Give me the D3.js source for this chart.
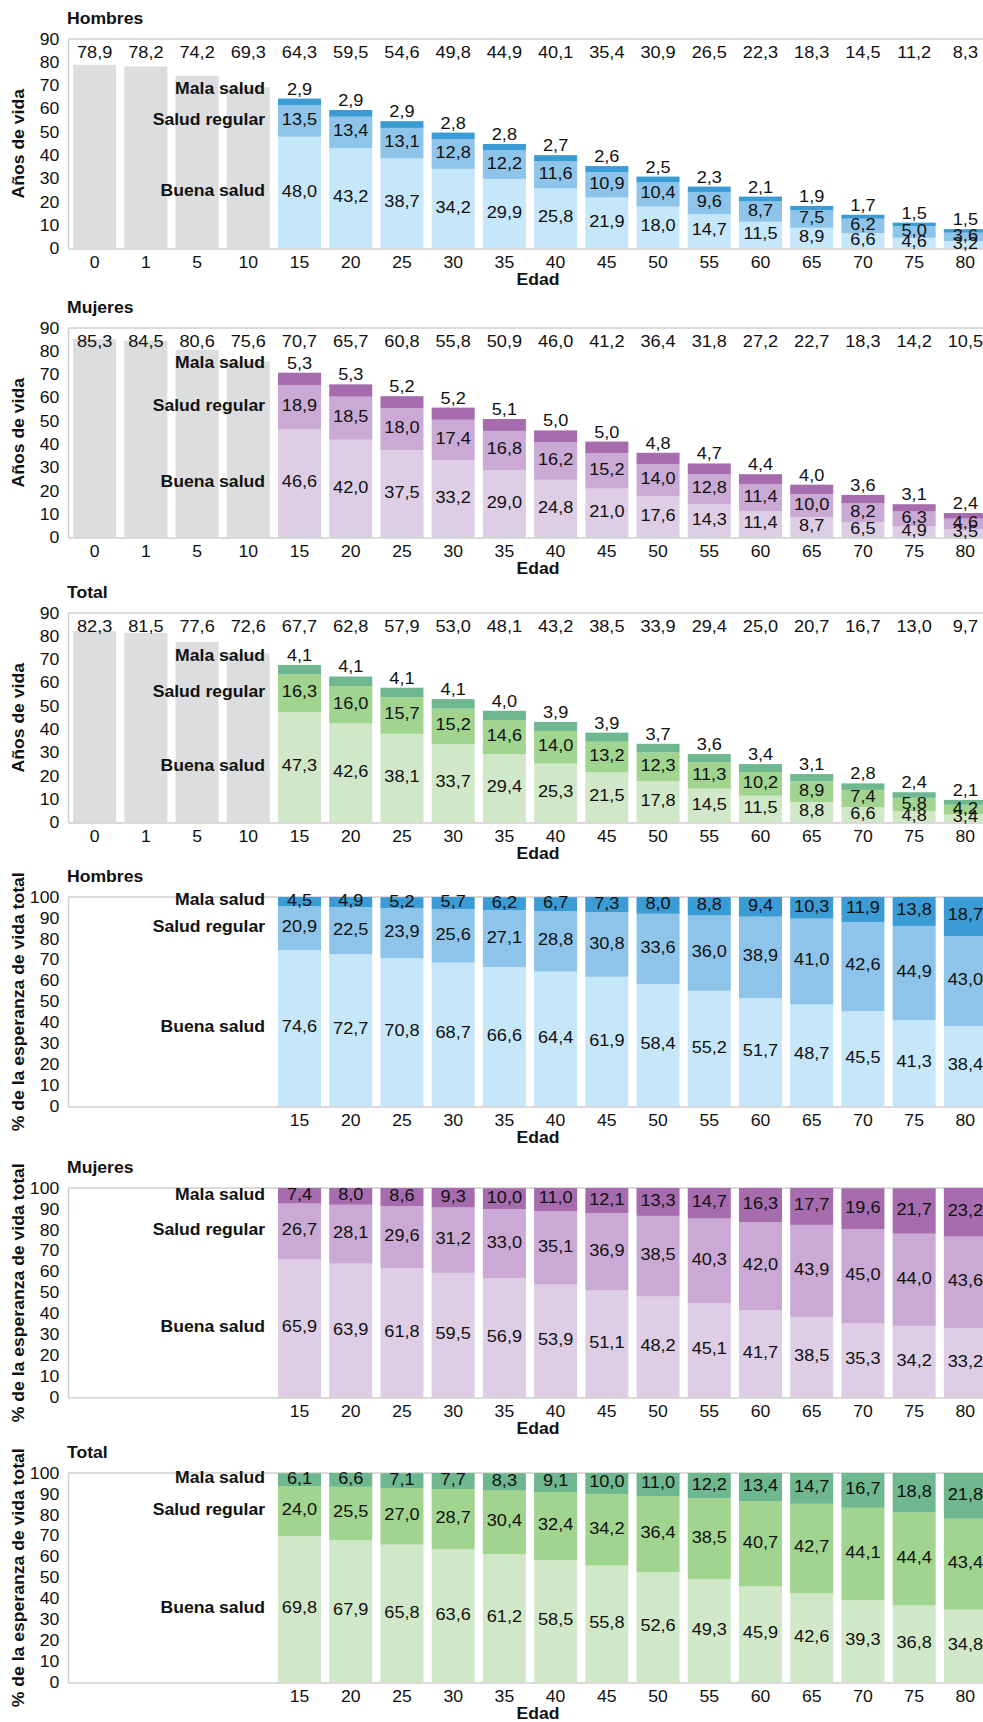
<!DOCTYPE html>
<html>
<head>
<meta charset="utf-8">
<script src="https://cdn.jsdelivr.net/npm/d3@7"></script>
<style>
  body { margin: 0; background: #fff; }
  text { font-family: "Liberation Sans", Arial, Helvetica, sans-serif; fill: #111; }
</style>
</head>
<body>
<svg id="chart" width="983" height="1722"></svg>
<script>
// Age groups (x axis) and the ones broken down by perceived health
const ages = ["0", "1", "5", "10", "15", "20", "25", "30", "35", "40", "45", "50", "55", "60", "65", "70", "75", "80"];
const stackAges = ["15", "20", "25", "30", "35", "40", "45", "50", "55", "60", "65", "70", "75", "80"];
const yearTicks = [0, 10, 20, 30, 40, 50, 60, 70, 80, 90];
const pctTicks = [0, 10, 20, 30, 40, 50, 60, 70, 80, 90, 100];
const healthLabels = ["Buena salud", "Salud regular", "Mala salud"];

// Life expectancy (years) — men
const menTotal = [78.9, 78.2, 74.2, 69.3, 64.3, 59.5, 54.6, 49.8, 44.9, 40.1, 35.4, 30.9, 26.5, 22.3, 18.3, 14.5, 11.2, 8.3];
const menGood = [48.0, 43.2, 38.7, 34.2, 29.9, 25.8, 21.9, 18.0, 14.7, 11.5, 8.9, 6.6, 4.6, 3.2];
const menFair = [13.5, 13.4, 13.1, 12.8, 12.2, 11.6, 10.9, 10.4, 9.6, 8.7, 7.5, 6.2, 5.0, 3.6];
const menPoor = [2.9, 2.9, 2.9, 2.8, 2.8, 2.7, 2.6, 2.5, 2.3, 2.1, 1.9, 1.7, 1.5, 1.5];

// Life expectancy (years) — women
const womenTotal = [85.3, 84.5, 80.6, 75.6, 70.7, 65.7, 60.8, 55.8, 50.9, 46.0, 41.2, 36.4, 31.8, 27.2, 22.7, 18.3, 14.2, 10.5];
const womenGood = [46.6, 42.0, 37.5, 33.2, 29.0, 24.8, 21.0, 17.6, 14.3, 11.4, 8.7, 6.5, 4.9, 3.5];
const womenFair = [18.9, 18.5, 18.0, 17.4, 16.8, 16.2, 15.2, 14.0, 12.8, 11.4, 10.0, 8.2, 6.3, 4.6];
const womenPoor = [5.3, 5.3, 5.2, 5.2, 5.1, 5.0, 5.0, 4.8, 4.7, 4.4, 4.0, 3.6, 3.1, 2.4];

// Life expectancy (years) — both sexes
const allTotal = [82.3, 81.5, 77.6, 72.6, 67.7, 62.8, 57.9, 53.0, 48.1, 43.2, 38.5, 33.9, 29.4, 25.0, 20.7, 16.7, 13.0, 9.7];
const allGood = [47.3, 42.6, 38.1, 33.7, 29.4, 25.3, 21.5, 17.8, 14.5, 11.5, 8.8, 6.6, 4.8, 3.4];
const allFair = [16.3, 16.0, 15.7, 15.2, 14.6, 14.0, 13.2, 12.3, 11.3, 10.2, 8.9, 7.4, 5.8, 4.2];
const allPoor = [4.1, 4.1, 4.1, 4.1, 4.0, 3.9, 3.9, 3.7, 3.6, 3.4, 3.1, 2.8, 2.4, 2.1];

// Share of remaining life expectancy (%) — men
const menPctGood = [74.6, 72.7, 70.8, 68.7, 66.6, 64.4, 61.9, 58.4, 55.2, 51.7, 48.7, 45.5, 41.3, 38.4];
const menPctFair = [20.9, 22.5, 23.9, 25.6, 27.1, 28.8, 30.8, 33.6, 36.0, 38.9, 41.0, 42.6, 44.9, 43.0];
const menPctPoor = [4.5, 4.9, 5.2, 5.7, 6.2, 6.7, 7.3, 8.0, 8.8, 9.4, 10.3, 11.9, 13.8, 18.7];

// Share of remaining life expectancy (%) — women
const womenPctGood = [65.9, 63.9, 61.8, 59.5, 56.9, 53.9, 51.1, 48.2, 45.1, 41.7, 38.5, 35.3, 34.2, 33.2];
const womenPctFair = [26.7, 28.1, 29.6, 31.2, 33.0, 35.1, 36.9, 38.5, 40.3, 42.0, 43.9, 45.0, 44.0, 43.6];
const womenPctPoor = [7.4, 8.0, 8.6, 9.3, 10.0, 11.0, 12.1, 13.3, 14.7, 16.3, 17.7, 19.6, 21.7, 23.2];

// Share of remaining life expectancy (%) — both sexes
const allPctGood = [69.8, 67.9, 65.8, 63.6, 61.2, 58.5, 55.8, 52.6, 49.3, 45.9, 42.6, 39.3, 36.8, 34.8];
const allPctFair = [24.0, 25.5, 27.0, 28.7, 30.4, 32.4, 34.2, 36.4, 38.5, 40.7, 42.7, 44.1, 44.4, 43.4];
const allPctPoor = [6.1, 6.6, 7.1, 7.7, 8.3, 9.1, 10.0, 11.0, 12.2, 13.4, 14.7, 16.7, 18.8, 21.8];

// Palettes: [good, fair, poor]
const bluePalette = ["#c6e6f9", "#8ec4ea", "#3a9bd5"];
const purplePalette = ["#ddcde5", "#caaad4", "#a66cae"];
const greenPalette = ["#d1e8c8", "#a0d48f", "#6fb78f"];
const grayBar = "#dcdddf";
const lineColor = "#cfcfcf";

const svg = d3.select("#chart");
const W = 983, H = 1722;
const plotLeft = 68, plotRight = 992, panelHeight = 209.5;
const SX = 1.1;            // horizontal widening applied to all labels
const FS = 16;             // base font size
const VFS = 16.5;          // value label font size

const x = d3.scaleBand().domain(ages).range([plotLeft, plotRight]).paddingInner(0.16).paddingOuter(0.1);
const fmt = v => v.toFixed(1).replace(".", ",");

function label(g, px, py, str, opts = {}) {
  const { anchor = "middle", weight = "normal", size = FS, dy = "0.36em" } = opts;
  return g.append("text")
    .attr("transform", `translate(${px},${py}) scale(${SX},1)`)
    .attr("text-anchor", anchor)
    .attr("dy", dy)
    .style("font-size", size + "px")
    .style("font-weight", weight)
    .text(str);
}

function drawPanel(cfg) {
  const top = cfg.top, base = top + panelHeight;
  const g = svg.append("g");
  const y = d3.scaleLinear().domain([0, cfg.yMax]).range([base, top]);

  // Frame: top line at the maximum of the scale
  g.append("line").attr("x1", plotLeft).attr("x2", W).attr("y1", y(cfg.yMax)).attr("y2", y(cfg.yMax))
    .attr("stroke", lineColor).attr("stroke-width", 1.5);

  // Panel title
  label(g, plotLeft - 1, top - 21, cfg.title, { anchor: "start", weight: "bold" });

  // Y axis
  const yAxis = g.append("g").attr("transform", `translate(${plotLeft},0)`)
    .call(d3.axisLeft(y).tickValues(cfg.ticks).tickSize(0).tickSizeOuter(0).tickPadding(8).tickFormat(d3.format("d")));
  yAxis.select(".domain").attr("stroke", lineColor).attr("stroke-width", 1.5);
  yAxis.selectAll("text").attr("transform", `scale(${SX},1)`).style("font-size", FS + "px").attr("fill", "#111");

  // Y axis title
  g.append("text")
    .attr("transform", `translate(24,${(top + base) / 2}) rotate(-90) scale(${SX},1)`)
    .attr("text-anchor", "middle")
    .style("font-size", FS + "px").style("font-weight", "bold")
    .text(cfg.yTitle);

  // Grey bars for ages without a health breakdown
  if (cfg.totals) {
    const greyAges = ages.filter(a => !stackAges.includes(a));
    g.selectAll("rect.total").data(greyAges).join("rect")
      .attr("class", "total")
      .attr("x", a => x(a)).attr("width", x.bandwidth())
      .attr("y", a => y(cfg.totals[ages.indexOf(a)]))
      .attr("height", a => base - y(cfg.totals[ages.indexOf(a)]))
      .attr("fill", grayBar);
  }

  // Stacked bars by perceived health
  const rows = stackAges.map((a, i) => ({ age: a, good: cfg.good[i], fair: cfg.fair[i], poor: cfg.poor[i] }));
  const keys = ["good", "fair", "poor"];
  const series = d3.stack().keys(keys)(rows);
  series.forEach((s, k) => {
    g.selectAll(null).data(s).join("rect")
      .attr("x", d => x(d.data.age)).attr("width", x.bandwidth())
      .attr("y", d => y(Math.min(d[1], cfg.yMax)))
      .attr("height", d => y(d[0]) - y(Math.min(d[1], cfg.yMax)))
      .attr("fill", cfg.colors[k]);
  });

  // X axis
  const xAxis = g.append("g").attr("transform", `translate(0,${base})`)
    .call(d3.axisBottom(x).tickValues(cfg.totals ? ages : stackAges).tickSize(0).tickSizeOuter(0).tickPadding(8));
  xAxis.select(".domain").attr("stroke", lineColor).attr("stroke-width", 1.5);
  xAxis.selectAll("text").attr("transform", `scale(${SX},1)`).style("font-size", FS + "px").attr("fill", "#111");
  label(g, 538, base + 31, "Edad", { weight: "bold" });

  // Totals row along the top of the frame
  if (cfg.totals) {
    cfg.totals.forEach((v, i) => label(g, x(ages[i]) + x.bandwidth() / 2, top + 13, fmt(v), { size: VFS }));
  }

  // Segment values
  const labelY = [];
  series.forEach((s, k) => {
    s.forEach((d, i) => {
      const cx = x(d.data.age) + x.bandwidth() / 2;
      let cy;
      if (k === 2 && cfg.totals) cy = y(d[1]) - 10;        // poor health: above the bar
      else cy = y((d[0] + Math.min(d[1], cfg.yMax)) / 2) - 2;
      if (i === 0) labelY[k] = cy;
      label(g, cx, cy, fmt(d.data[keys[k]]), { size: VFS });
    });
  });

  // Category names beside the first stacked bar
  const legendX = x(stackAges[0]) - 13;
  healthLabels.forEach((name, k) => label(g, legendX, labelY[k], name, { anchor: "end", weight: "bold" }));
}

const yearsTitle = "Años de vida";
const pctTitle = "% de la esperanza de vida total";

drawPanel({ top: 39, title: "Hombres", yMax: 90, ticks: yearTicks, yTitle: yearsTitle, totals: menTotal,
  good: menGood, fair: menFair, poor: menPoor, colors: bluePalette });
drawPanel({ top: 328, title: "Mujeres", yMax: 90, ticks: yearTicks, yTitle: yearsTitle, totals: womenTotal,
  good: womenGood, fair: womenFair, poor: womenPoor, colors: purplePalette });
drawPanel({ top: 613, title: "Total", yMax: 90, ticks: yearTicks, yTitle: yearsTitle, totals: allTotal,
  good: allGood, fair: allFair, poor: allPoor, colors: greenPalette });
drawPanel({ top: 897, title: "Hombres", yMax: 100, ticks: pctTicks, yTitle: pctTitle, totals: null,
  good: menPctGood, fair: menPctFair, poor: menPctPoor, colors: bluePalette });
drawPanel({ top: 1188, title: "Mujeres", yMax: 100, ticks: pctTicks, yTitle: pctTitle, totals: null,
  good: womenPctGood, fair: womenPctFair, poor: womenPctPoor, colors: purplePalette });
drawPanel({ top: 1473, title: "Total", yMax: 100, ticks: pctTicks, yTitle: pctTitle, totals: null,
  good: allPctGood, fair: allPctFair, poor: allPctPoor, colors: greenPalette });
</script>
</body>
</html>
